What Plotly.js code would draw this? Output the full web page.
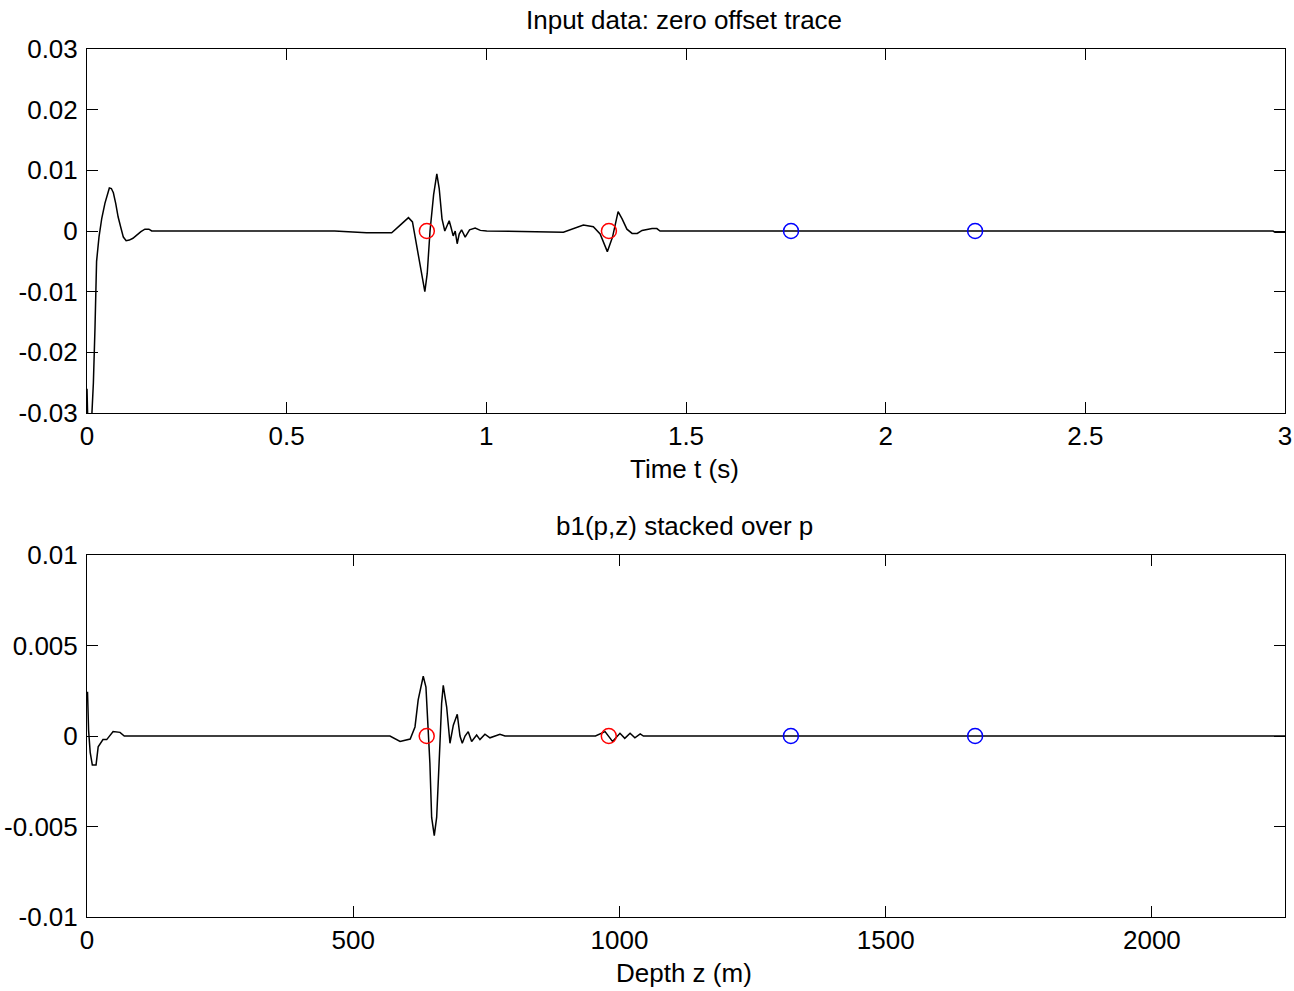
<!DOCTYPE html>
<html>
<head>
<meta charset="utf-8">
<script src="https://cdn.plot.ly/plotly-3.0.1.min.js"></script>
<style>html,body{margin:0;padding:0;background:#fff;}#chart{width:1294px;height:991px;}</style>
</head>
<body>
<div id="chart"></div>
<script>
// ---- Data ----
var timeT = [0, 0.003, 0.008, 0.012, 0.016, 0.02, 0.024, 0.03, 0.037, 0.045, 0.051, 0.056, 0.061, 0.066, 0.072, 0.078, 0.085, 0.091, 0.098, 0.106, 0.115, 0.124, 0.135, 0.145, 0.155, 0.162,
  0.62, 0.70, 0.763, 0.785, 0.805, 0.815, 0.830, 0.846, 0.852, 0.859, 0.868, 0.876, 0.882, 0.889, 0.896, 0.907, 0.912, 0.917, 0.922, 0.927, 0.932, 0.938, 0.947, 0.958, 0.972, 0.985, 1.001,
  1.193, 1.243, 1.268, 1.285, 1.303, 1.316, 1.330, 1.340, 1.352, 1.365, 1.378, 1.390, 1.402, 1.415, 1.427, 1.435, 2.97, 2.975, 3.0];
var traceAmp = [-0.026, -0.034, -0.036, -0.031, -0.025, -0.016, -0.005, -0.001, 0.0021, 0.0046, 0.0062, 0.0071, 0.0070, 0.0063, 0.0045, 0.0023, 0.0005, -0.0010, -0.0016, -0.0015, -0.0012, -0.0007, -0.0001, 0.0003, 0.0003, 0,
  0, -0.0003, -0.0003, 0.0010, 0.0022, 0.0015, -0.0040, -0.0100, -0.0070, 0.0000, 0.0060, 0.0094, 0.0070, 0.0020, 0.0000, 0.0017, 0.0005, -0.0008, 0.0000, -0.0021, -0.0005, 0.0002, -0.0010, 0.0002, 0.0005, 0.0001, 0,
  -0.0002, 0.0010, 0.0007, -0.0005, -0.0034, -0.0010, 0.0032, 0.0020, 0.0003, -0.0004, -0.0004, 0.0001, 0.0003, 0.0004, 0.0004, 0, 0, -0.0002, -0.0002];

var depthZ = [0, 1, 3, 6, 10, 17, 21, 30, 37, 49, 62, 70,
  569, 588, 607, 616, 622, 631.5, 636.6, 641, 644, 647.3, 652.2, 656.7, 659.7, 662.9, 666, 669.1, 675.5, 681.7, 688, 695.4, 700.5, 704.8, 710, 716, 722.4, 731.8, 738, 747.4, 756.8, 775.6, 785,
  955, 973, 987, 1001, 1010, 1020, 1029, 1039, 1045, 2250];
var stackAmp = [0.0024, 0.0024, 0.0003, -0.0009, -0.0016, -0.0016, -0.0006, -0.0002, -0.0002, 0.00025, 0.0002, 0,
  0, -0.0003, -0.00017, 0.0005, 0.0020, 0.0033, 0.0027, 0, -0.0015, -0.0045, -0.0055, -0.0045, -0.0028, -0.0004, 0.0018, 0.0028, 0.0016, -0.0004, 0.0006, 0.0012, 0, -0.0004, 0.0000, 0.00024, -0.0003, 0.00005, -0.0002, 0.0001, -0.0001, 0.0001, 0,
  0, 0.00024, -0.0003, 0.00015, -0.00013, 0.00015, -0.0001, 0.00012, 0, 0];

var redTimes = [0.851, 1.307];
var blueTimes = [1.763, 2.224];
var redDepths = [638, 980];
var blueDepths = [1322, 1668];

var xTickTopVals = [0, 0.5, 1, 1.5, 2, 2.5, 3];
var xTickTopText = ["0", "0.5", "1", "1.5", "2", "2.5", "3"];
var yTickTopVals = [-0.03, -0.02, -0.01, 0, 0.01, 0.02, 0.03];
var yTickTopText = ["-0.03", "-0.02", "-0.01", "0", "0.01", "0.02", "0.03"];
var xTickBotVals = [0, 500, 1000, 1500, 2000];
var xTickBotText = ["0", "500", "1000", "1500", "2000"];
var yTickBotVals = [-0.01, -0.005, 0, 0.005, 0.01];
var yTickBotText = ["-0.01", "-0.005", "0", "0.005", "0.01"];

var titles = ["Input data: zero offset trace", "b1(p,z) stacked over p"];
var xTitles = ["Time t (s)", "Depth z (m)"];

// ---- Traces ----
var lineStyle = {color: '#000000', width: 1.5};
var circ = function (c) { return {symbol: 'circle-open', size: 15, color: c, line: {color: c, width: 1.5}}; };
var zeros = function (a) { return a.map(function () { return 0; }); };

var data = [
  {x: timeT, y: traceAmp, type: 'scatter', mode: 'lines', line: lineStyle, xaxis: 'x', yaxis: 'y', hoverinfo: 'skip'},
  {x: redTimes, y: zeros(redTimes), type: 'scatter', mode: 'markers', marker: circ('#ff0000'), xaxis: 'x', yaxis: 'y', hoverinfo: 'skip'},
  {x: blueTimes, y: zeros(blueTimes), type: 'scatter', mode: 'markers', marker: circ('#0000ff'), xaxis: 'x', yaxis: 'y', hoverinfo: 'skip'},
  {x: depthZ, y: stackAmp, type: 'scatter', mode: 'lines', line: lineStyle, xaxis: 'x2', yaxis: 'y2', hoverinfo: 'skip'},
  {x: redDepths, y: zeros(redDepths), type: 'scatter', mode: 'markers', marker: circ('#ff0000'), xaxis: 'x2', yaxis: 'y2', hoverinfo: 'skip'},
  {x: blueDepths, y: zeros(blueDepths), type: 'scatter', mode: 'markers', marker: circ('#0000ff'), xaxis: 'x2', yaxis: 'y2', hoverinfo: 'skip'}
];

var FONT = '"Liberation Sans", Arial, Helvetica, sans-serif';
var FS = 26;
var axisBase = {
  showline: true, linecolor: '#000', linewidth: 1, mirror: 'ticks',
  ticks: 'inside', ticklen: 11, tickwidth: 1, tickcolor: '#000',
  showgrid: false, zeroline: false, fixedrange: true,
  tickfont: {family: FONT, size: FS, color: '#000'}
};
function ax(extra) { var o = {}; for (var k in axisBase) o[k] = axisBase[k]; for (var k2 in extra) o[k2] = extra[k2]; return o; }

var H = 868; // plot area height in px (991 - 49 - 74)
function py(p) { return (917 - p) / H; }

var layout = {
  width: 1294, height: 991,
  margin: {l: 87, r: 9, t: 49, b: 74},
  paper_bgcolor: '#fff', plot_bgcolor: '#fff',
  showlegend: false,
  font: {family: FONT, size: FS, color: '#000'},
  xaxis: ax({domain: [0, 1], range: [0, 3], tickmode: 'array', tickvals: xTickTopVals, ticktext: xTickTopText, anchor: 'y', ticklabelstandoff: 0}),
  yaxis: ax({domain: [py(413), 1], range: [-0.03, 0.03], tickmode: 'array', tickvals: yTickTopVals, ticktext: yTickTopText, anchor: 'x', ticklabelstandoff: 3}),
  xaxis2: ax({domain: [0, 1], range: [0, 2250], tickmode: 'array', tickvals: xTickBotVals, ticktext: xTickBotText, anchor: 'y2', ticklabelstandoff: 0}),
  yaxis2: ax({domain: [0, py(555)], range: [-0.01, 0.01], tickmode: 'array', tickvals: yTickBotVals, ticktext: yTickBotText, anchor: 'x2', ticklabelstandoff: 3}),
  annotations: [
    {text: titles[0], xref: 'paper', yref: 'paper', x: 0.4985, y: py(20), xanchor: 'center', yanchor: 'middle', showarrow: false, font: {family: FONT, size: FS, color: '#000'}},
    {text: titles[1], xref: 'paper', yref: 'paper', x: 0.4985, y: py(526), xanchor: 'center', yanchor: 'middle', showarrow: false, font: {family: FONT, size: FS, color: '#000'}},
    {text: xTitles[0], xref: 'paper', yref: 'paper', x: 0.4985, y: py(469), xanchor: 'center', yanchor: 'middle', showarrow: false, font: {family: FONT, size: FS, color: '#000'}},
    {text: xTitles[1], xref: 'paper', yref: 'paper', x: 0.4985, y: py(973), xanchor: 'center', yanchor: 'middle', showarrow: false, font: {family: FONT, size: FS, color: '#000'}}
  ]
};

Plotly.newPlot('chart', data, layout, {staticPlot: true, displayModeBar: false});
</script>
</body>
</html>
